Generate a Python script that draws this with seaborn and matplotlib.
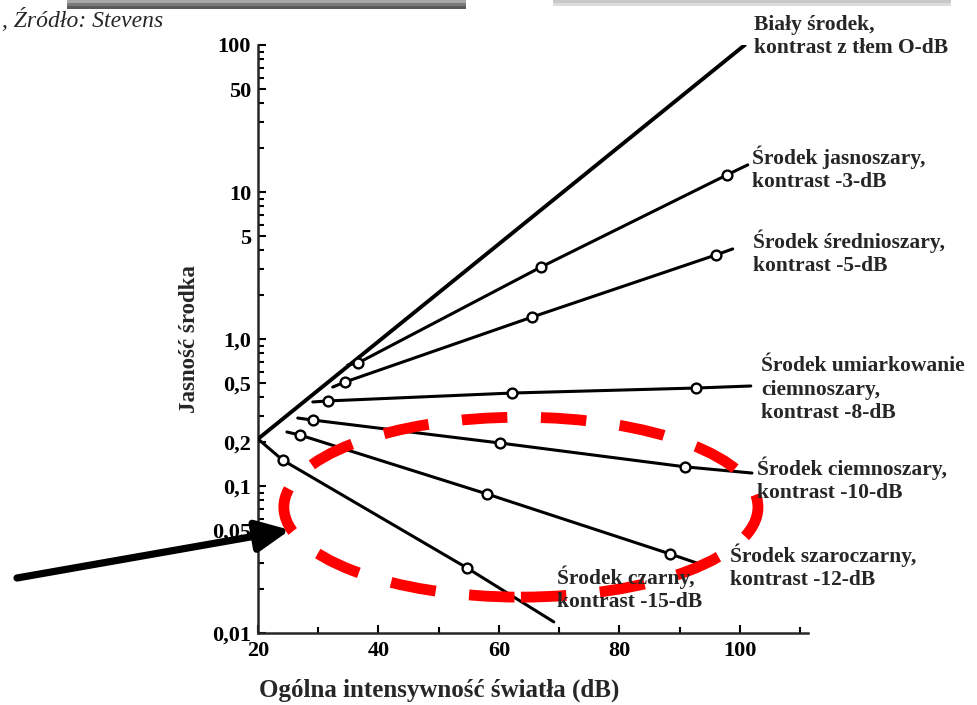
import matplotlib
matplotlib.use("Agg")
import matplotlib.pyplot as plt
from matplotlib.patches import Ellipse, Rectangle
from matplotlib.ticker import FixedLocator, NullFormatter
import seaborn as sns
import pandas as pd

# dane: pierwszy i ostatni punkt = koniec linii,
# punkty wewnętrzne = pomiary (kółka)
bialy_x = [20, 100.8]
bialy_y = [0.209, 100]

jasny_x = [34.9, 36.6, 67.0, 97.8, 101.3]
jasny_y = [0.665, 0.687, 3.09, 13.05, 15.3]

sredni_x = [32.4, 34.4, 65.5, 96.0, 98.8]
sredni_y = [0.471, 0.509, 1.41, 3.73, 4.10]

umiark_x = [29.1, 31.6, 62.2, 92.7, 101.8]
umiark_y = [0.373, 0.379, 0.429, 0.464, 0.479]

ciemny_x = [26.6, 29.1, 60.2, 90.9, 102.0]
ciemny_y = [0.290, 0.281, 0.196, 0.135, 0.1225]

szaro_x = [24.8, 27.0, 58.0, 88.4, 93.4]
szaro_y = [0.233, 0.222, 0.0883, 0.0345, 0.0294]

czarny_x = [20, 24.1, 54.7, 69.1]
czarny_y = [0.209, 0.150, 0.0277, 0.0119]

y_ticks = [0.01, 0.05, 0.1, 0.2, 0.5, 1, 5, 10, 50, 100]
y_labels = ["0,01", "0,05", "0,1", "0,2", "0,5", "1,0", "5", "10", "50", "100"]
x_ticks = [20, 40, 60, 80, 100]

# (tekst, lewa krawędź px, linia bazowa ostatniego wiersza px)
etykiety = [
    ("Biały środek,\nkontrast z tłem O-dB", 754, 53),
    ("Środek jasnoszary,\nkontrast -3-dB", 752, 187),
    ("Środek średnioszary,\nkontrast -5-dB", 753, 271),
    ("Środek umiarkowanie\nciemnoszary,\nkontrast -8-dB", 761, 418),
    ("Środek ciemnoszary,\nkontrast -10-dB", 757, 498),
    ("Środek szaroczarny,\nkontrast -12-dB", 730, 585),
    ("Środek czarny,\nkontrast -15-dB", 557, 607),
]

W, H = 978, 705

sns.set_style("ticks")
plt.rcParams["font.family"] = ["Liberation Serif", "DejaVu Serif"]
plt.rcParams["font.weight"] = "bold"

fig = plt.figure(figsize=(W / 100, H / 100), dpi=100)
ax = fig.add_axes([258 / W, 1 - 633 / H, 550 / W, 588 / H])
ax.set_yscale("log")

serie = [(bialy_x, bialy_y, 2.8), (jasny_x, jasny_y, 2.2), (sredni_x, sredni_y, 2.2),
         (umiark_x, umiark_y, 2.2), (ciemny_x, ciemny_y, 2.2), (szaro_x, szaro_y, 2.2),
         (czarny_x, czarny_y, 2.2)]

for xs, ys, lw in serie:
    df = pd.DataFrame({"x": xs, "y": ys})
    sns.lineplot(data=df, x="x", y="y", color="black", lw=lw, sort=False,
                 estimator=None, ax=ax, zorder=3)
    if len(xs) > 2:
        pts = df.iloc[1:-1]
        sns.scatterplot(data=pts, x="x", y="y", s=50, color="white",
                        edgecolor="black", linewidth=1.7, ax=ax, zorder=4)

ax.set_xlim(20, 111.3)
ax.set_ylim(0.01, 100)

ax.set_xticks(x_ticks)
ax.set_xticks([30, 50, 70, 90, 110], minor=True)
ax.set_yticks(y_ticks)
ax.set_yticklabels(y_labels)
minor_y = [m * 10.0 ** e for e in range(-2, 2) for m in range(2, 10)]
minor_y = [v for v in minor_y if all(abs(v - t) > 1e-9 for t in y_ticks)]
ax.yaxis.set_minor_locator(FixedLocator(minor_y))
ax.yaxis.set_minor_formatter(NullFormatter())

ax.tick_params(which="both", direction="in", width=1.5, colors="black", labelsize=16)
ax.tick_params(which="major", length=6)
ax.tick_params(which="minor", length=4)
ax.tick_params(axis="x", pad=6)
ax.tick_params(axis="y", pad=5)

sns.despine(ax=ax)
for s in ["left", "bottom"]:
    ax.spines[s].set_linewidth(1.8)

ax.set_xlabel("Ogólna intensywność światła (dB)", fontsize=18, fontweight="bold")
ax.set_ylabel("Jasność środka", fontsize=16.5, fontweight="bold")
ax.xaxis.set_label_coords(0.329, -0.078)
ax.yaxis.set_label_coords(-0.105, 0.5)

for tekst, px, py in etykiety:
    fig.text(px / W, 1 - py / H, tekst, fontsize=15.5, fontweight="bold",
             va="baseline", ha="left", linespacing=1.22)

fig.text(2 / W, 1 - 20 / H, ", Źródło: Stevens", fontsize=17, style="italic",
         fontweight="normal", va="center", ha="left")

# czerwona przerywana elipsa
ax.add_patch(Ellipse((0.478, 0.214), 0.862, 0.306, transform=ax.transAxes,
                     fill=False, edgecolor="#ff0000", lw=7.8,
                     linestyle=(0, (4.2, 3.1)), zorder=10, clip_on=False))

# czarna strzałka
ax.annotate("", xy=(290, H - 530), xycoords="figure pixels",
            xytext=(17, H - 578), textcoords="figure pixels",
            arrowprops=dict(arrowstyle="-|>,head_length=2.0,head_width=0.95",
                            mutation_scale=10, lw=5.2, color="black",
                            shrinkA=0, shrinkB=0),
            annotation_clip=False, zorder=11)

# szare paski u góry (fragment zrzutu ekranu)
for i, c in enumerate(["#a8a8a8", "#7a7a7a", "#5a5a5a"]):
    fig.add_artist(Rectangle((67 / W, 1 - (i + 1) * 3 / H), (466 - 67) / W, 3 / H,
                             transform=fig.transFigure, color=c, lw=0))
for i, c in enumerate(["#c8c8c8", "#dcdcdc"]):
    fig.add_artist(Rectangle((553 / W, 1 - (i + 1) * 3 / H), (951 - 553) / W, 3 / H,
                             transform=fig.transFigure, color=c, lw=0))

fig.savefig("out.png", dpi=100)
